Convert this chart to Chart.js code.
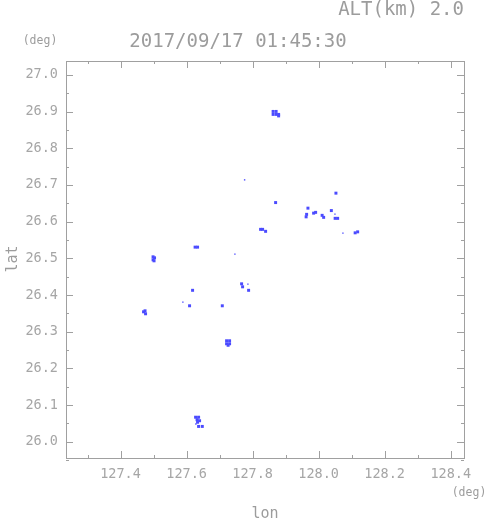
<!DOCTYPE html>
<html>
<head>
    <title>ALT 2.0 km 2017/09/17 01:45:30</title>
    <style>
        body {
            margin: 0;
            background: #ffffff;
        }
        #chart-container {
            width: 491px;
            height: 521px;
        }
    </style>
    <script src="https://cdn.jsdelivr.net/npm/chart.js"></script>
</head>
<body>
    <div id="chart-container">
        <canvas id="echoChart"></canvas>
    </div>
    <script>
        // echo cells (lon, lat)
        const cellLon = [
            127.8621, 127.8712, 127.8621, 127.8712, 127.8788, 127.8788,
            128.0524, 127.8697,
            127.9676, 127.9636, 127.9621, 127.9848, 127.9909,
            128.0106, 128.0152, 128.0385, 128.0500, 128.0576,
            128.1106, 128.1182, 127.8242, 127.8303, 127.8394,
            127.6258, 127.6333,
            127.4985, 127.5030, 127.4985, 127.5015,
            127.7667, 127.7697, 127.7879, 127.6182,
            127.6091, 127.7082,
            127.4742, 127.4758, 127.4697,
            127.7212, 127.7303, 127.7212, 127.7303, 127.7258,
            127.6273, 127.6364, 127.6318, 127.6394, 127.6333,
            127.6364, 127.6476
        ];
        const cellLat = [
            26.9005, 26.9005, 26.8924, 26.8924, 26.8924, 26.8883,
            26.6777, 26.6520,
            26.6368, 26.6199, 26.6131, 26.6232, 26.6253,
            26.6172, 26.6117, 26.6302, 26.6090, 26.6090,
            26.5695, 26.5722, 26.5790, 26.5790, 26.5736,
            26.5305, 26.5305,
            26.5041, 26.5014, 26.4960, 26.4932,
            26.4305, 26.4223, 26.4128, 26.4128,
            26.3706, 26.3706,
            26.3569, 26.3488, 26.3542,
            26.2752, 26.2752, 26.2670, 26.2670, 26.2629,
            26.0668, 26.0668, 26.0600, 26.0572, 26.0531,
            26.0417, 26.0417
        ];
        // single-pixel echoes
        const dotLon = [127.7758, 127.7464, 128.0494, 128.0736, 127.7858, 127.5888, 127.6282];
        const dotLat = [26.7139, 26.5114, 26.6204, 26.5687, 26.4297, 26.3807, 26.0482];

        const lonTicks = [127.4, 127.6, 127.8, 128.0, 128.2, 128.4];
        const lonMinor = [127.3, 127.5, 127.7, 127.9, 128.1, 128.3];
        const latTicks = [26.0, 26.1, 26.2, 26.3, 26.4, 26.5, 26.6, 26.7, 26.8, 26.9, 27.0];
        const latMinor = [25.95, 26.05, 26.15, 26.25, 26.35, 26.45, 26.55, 26.65, 26.75, 26.85, 26.95];

        const titleText = '2017/09/17 01:45:30';
        const altText = 'ALT(km) 2.0';

        const gray = '#9c9c9c';
        const mono = '"DejaVu Sans Mono", monospace';

        const cellPoints = cellLon.map((v, i) => ({ x: v, y: cellLat[i] }));
        const dotPoints = dotLon.map((v, i) => ({ x: v, y: dotLat[i] }));

        // frame, inward ticks and the loose texts
        const framePlugin = {
            id: 'frame',
            afterDraw(chart) {
                const ctx = chart.ctx;
                const a = chart.chartArea;
                const xs = chart.scales.x;
                const ys = chart.scales.y;
                ctx.save();
                ctx.strokeStyle = '#a0a0a0';
                ctx.lineWidth = 1;
                ctx.strokeRect(a.left + 0.5, a.top + 0.5, a.right - a.left, a.bottom - a.top);

                ctx.beginPath();
                const tickX = (vals, len) => {
                    vals.forEach(v => {
                        const px = Math.round(xs.getPixelForValue(v)) + 0.5;
                        ctx.moveTo(px, a.bottom);
                        ctx.lineTo(px, a.bottom - len);
                        ctx.moveTo(px, a.top);
                        ctx.lineTo(px, a.top + len);
                    });
                };
                const tickY = (vals, len) => {
                    vals.forEach(v => {
                        const py = Math.round(ys.getPixelForValue(v)) + 0.5;
                        ctx.moveTo(a.left, py);
                        ctx.lineTo(a.left + len, py);
                        ctx.moveTo(a.right, py);
                        ctx.lineTo(a.right - len, py);
                    });
                };
                tickX(lonTicks, 7);
                tickX(lonMinor, 3);
                tickY(latTicks, 7);
                tickY(latMinor, 3);
                ctx.stroke();

                ctx.fillStyle = gray;
                ctx.textBaseline = 'alphabetic';
                ctx.font = '19px ' + mono;
                ctx.textAlign = 'center';
                ctx.fillText(titleText, 238, 47);
                ctx.textAlign = 'right';
                ctx.fillText(altText, 464, 15);

                ctx.font = '11.5px ' + mono;
                ctx.textAlign = 'center';
                ctx.fillText('(deg)', 40, 44);
                ctx.fillText('(deg)', 469, 496);

                ctx.font = '15px ' + mono;
                ctx.fillText('lon', 265, 518);
                ctx.translate(17, 259);
                ctx.rotate(-Math.PI / 2);
                ctx.fillText('lat', 0, 0);
                ctx.restore();
            }
        };

        new Chart(document.getElementById('echoChart'), {
            type: 'scatter',
            data: {
                datasets: [{
                    label: 'echo',
                    data: cellPoints,
                    pointStyle: 'rect',
                    pointRadius: 2.1,
                    borderWidth: 0,
                    backgroundColor: '#4b4bff'
                }, {
                    label: 'dot',
                    data: dotPoints,
                    pointStyle: 'rect',
                    pointRadius: 1,
                    borderWidth: 0,
                    backgroundColor: '#4b4bff'
                }]
            },
            options: {
                responsive: true,
                maintainAspectRatio: false,
                animation: false,
                events: [],
                layout: {
                    padding: { top: 61, right: 27, left: 0, bottom: 0 }
                },
                plugins: {
                    legend: { display: false },
                    tooltip: { enabled: false }
                },
                scales: {
                    x: {
                        type: 'linear',
                        min: 127.2348,
                        max: 128.4403,
                        grid: { display: false, drawTicks: false },
                        border: { display: false },
                        afterBuildTicks: s => { s.ticks = lonTicks.map(v => ({ value: v })); },
                        afterFit: s => { s.height = 63; },
                        ticks: {
                            color: '#a6a6a6',
                            padding: 8,
                            maxRotation: 0,
                            font: { family: mono, size: 13.5 },
                            callback: v => v.toFixed(1)
                        }
                    },
                    y: {
                        type: 'linear',
                        min: 25.9556,
                        max: 27.038,
                        grid: { display: false, drawTicks: false },
                        border: { display: false },
                        afterBuildTicks: s => { s.ticks = latTicks.map(v => ({ value: v })); },
                        afterFit: s => { s.width = 66; },
                        ticks: {
                            color: '#a6a6a6',
                            padding: 8,
                            font: { family: mono, size: 13.5 },
                            callback: v => v.toFixed(1)
                        }
                    }
                }
            },
            plugins: [framePlugin]
        });
    </script>
</body>
</html>
